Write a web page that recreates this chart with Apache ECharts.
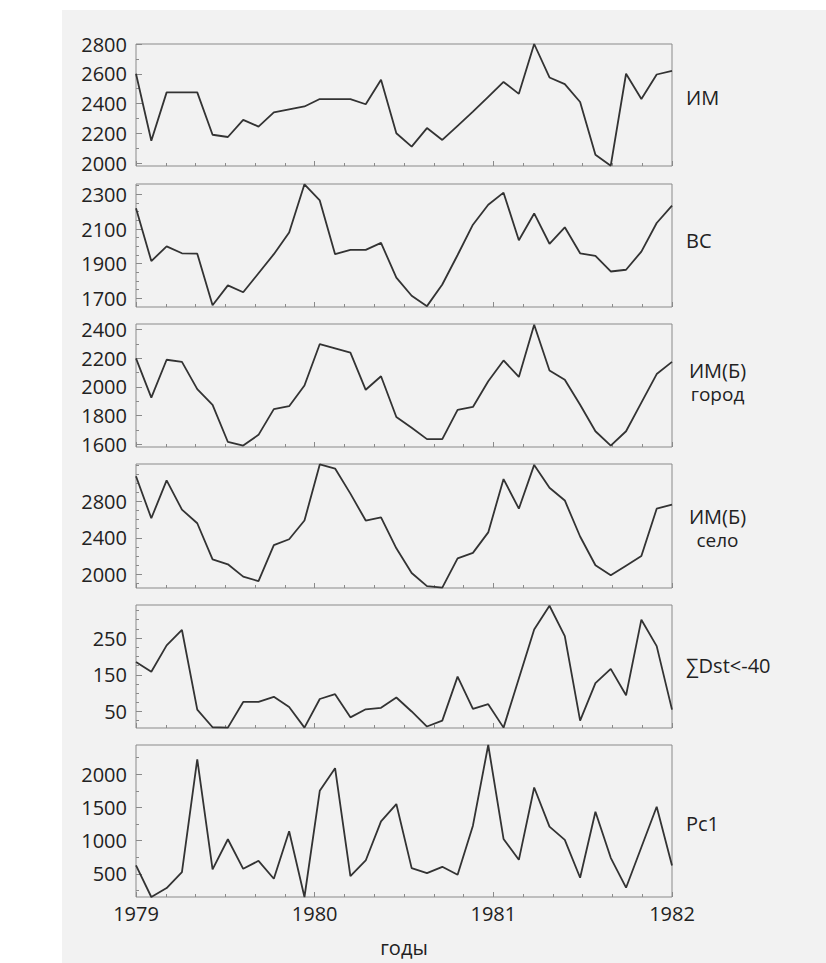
<!DOCTYPE html>
<html><head><meta charset="utf-8">
<script src="https://cdn.jsdelivr.net/npm/echarts@6/dist/echarts.min.js"></script>
<style>
html,body{margin:0;padding:0;background:#fff;}
#bg{position:absolute;left:62px;top:10px;width:764px;height:953px;background:#f2f2f2;}
#chart{position:absolute;left:0;top:0;width:826px;height:963px;}
</style></head><body>
<div id="bg"></div><div id="chart"></div>
<script>
// Monthly categories Jan 1979 .. Dec 1981
const years = [1979, 1980, 1981];
const categories = [];
years.forEach(y => { for (let m = 1; m <= 12; m++) categories.push(y + '-' + m); });

// Series values (one per month)
const imVals = [2600,2150,2475,2475,2475,2190,2175,2290,2245,2340,2360,2380,
                2430,2430,2430,2395,2560,2200,2110,2235,2155,2250,2345,2445,
                2545,2465,2800,2575,2530,2410,2055,1982,2600,2430,2595,2620];
const vsVals = [2220,1915,2000,1960,1958,1660,1775,1735,1845,1955,2080,2358,
                2265,1955,1980,1980,2020,1820,1715,1655,1780,1950,2125,2240,
                2310,2035,2190,2015,2110,1960,1945,1855,1865,1970,2135,2235];
const imbGorodVals = [2200,1925,2190,2175,1985,1875,1615,1590,1665,1845,1865,2010,
                      2300,2270,2240,1980,2075,1790,1715,1635,1635,1840,1860,2040,
                      2185,2070,2435,2115,2050,1875,1690,1590,1690,1890,2090,2175];
const imbSeloVals = [3075,2615,3030,2710,2560,2165,2110,1975,1925,2320,2385,2590,
                     3205,3160,2885,2590,2625,2285,2015,1870,1855,2175,2235,2460,
                     3045,2720,3200,2950,2810,2415,2100,1990,2095,2200,2720,2765];
const dstVals = [185,158,230,272,55,7,6,76,76,90,62,6,
                 84,97,34,56,60,88,50,9,25,145,57,70,
                 6,140,273,338,255,25,127,166,94,300,228,55];
const pc1Vals = [625,150,285,525,2225,565,1020,575,695,425,1140,150,
                 1750,2090,465,700,1290,1550,585,510,605,485,1225,2440,
                 1025,710,1800,1210,1010,440,1435,740,290,900,1510,625];

const seriesValues = [imVals, vsVals, imbGorodVals, imbSeloVals, dstVals, pc1Vals];
// Right-hand panel names (first line, optional second line)
const panelNames = ['ИМ', 'ВС', 'ИМ(Б)', 'ИМ(Б)', '∑Dst<-40', 'Pc1'];
const panelSubNames = ['', '', 'город', 'село', '', ''];

// Axis ranges and tick labels
const yMins = [1980, 1650, 1580, 1850, 5, 150];
const yMaxs = [2800, 2360, 2440, 3210, 340, 2440];
const yTickLabels = [
  [2000, 2200, 2400, 2600, 2800],
  [1700, 1900, 2100, 2300],
  [1600, 1800, 2000, 2200, 2400],
  [2000, 2400, 2800],
  [50, 150, 250],
  [500, 1000, 1500, 2000]
];
const yMinorTicks = [
  [2100, 2300, 2500, 2700],
  [1750, 1800, 1850, 1950, 2000, 2050, 2150, 2200, 2250, 2350],
  [1700, 1900, 2100, 2300],
  [1900, 2100, 2200, 2300, 2500, 2600, 2700, 2900, 3000, 3100, 3200],
  [25, 75, 100, 125, 175, 200, 225, 275, 300, 325],
  [250, 750, 1250, 1750, 2250]
];
const xYearTicks = [0, 12, 24, 36];          // months from Jan 1979
const xYearLabels = ['1979', '1980', '1981', '1982'];
const xMinorTicks = [2, 4, 6, 8, 10, 14, 16, 18, 20, 22, 26, 28, 30, 32, 34];

// Layout
const gridTops = [44, 184, 324, 464, 605, 745];
const gridHeights = [122, 123, 123, 124, 123, 152];
const FONT = '"Open Sans", "Noto Sans", sans-serif';
const TXT = '#222';
const AX = '#8a8a8a';

const grid = [], xAxis = [], yAxis = [], series = [];
for (let i = 0; i < 6; i++) {
  grid.push({ left: 136, width: 536, top: gridTops[i], height: gridHeights[i], show: true,
              borderColor: AX, borderWidth: 1, backgroundColor: 'transparent',
              containLabel: false, outerBoundsMode: 'none' });
  xAxis.push({ type: 'category', gridIndex: i, data: categories, boundaryGap: false, show: false, position: 'bottom' });
  xAxis.push({ type: 'value', gridIndex: i, min: 0, max: 36, position: 'bottom',
    axisLine: { show: false, onZero: false }, splitLine: { show: false },
    axisTick: { show: true, inside: true, length: 5, customValues: xYearTicks, lineStyle: { color: AX, width: 1 } },
    axisLabel: { show: i === 5, customValues: xYearTicks, margin: 6,
      formatter: v => xYearLabels[xYearTicks.indexOf(v)] || '',
      fontSize: 20, color: TXT, fontFamily: FONT } });
  xAxis.push({ type: 'value', gridIndex: i, min: 0, max: 36, position: 'bottom',
    axisLine: { show: false, onZero: false }, splitLine: { show: false },
    axisTick: { show: true, inside: true, length: 3, customValues: xMinorTicks, lineStyle: { color: AX, width: 1 } },
    axisLabel: { show: false } });
  yAxis.push({ type: 'value', gridIndex: i, min: yMins[i], max: yMaxs[i], position: 'left',
    axisLine: { show: false, onZero: false }, splitLine: { show: false },
    axisTick: { show: true, inside: true, length: 6, customValues: yTickLabels[i], lineStyle: { color: AX, width: 1 } },
    axisLabel: { show: true, customValues: yTickLabels[i], margin: 9, formatter: v => String(v),
      fontSize: 20, color: TXT, fontFamily: FONT } });
  yAxis.push({ type: 'value', gridIndex: i, min: yMins[i], max: yMaxs[i], position: 'left',
    axisLine: { show: false, onZero: false }, splitLine: { show: false },
    axisTick: { show: true, inside: true, length: 3, customValues: yMinorTicks[i], lineStyle: { color: AX, width: 1 } },
    axisLabel: { show: false } });
  series.push({ type: 'line', xAxisIndex: i * 3, yAxisIndex: i * 2, data: seriesValues[i],
    showSymbol: false, symbol: 'none', lineStyle: { color: '#333', width: 1.8 }, silent: true, clip: true });
}

const labelPos = [
  { x: 686, y: 97, align: 'left' },
  { x: 686, y: 240, align: 'left' },
  { x: 717.5, y: 370, align: 'center' },
  { x: 717.5, y: 516, align: 'center' },
  { x: 686, y: 665, align: 'left' },
  { x: 686, y: 823, align: 'left' }
];
const graphicEls = [];
panelNames.forEach((t, i) => {
  graphicEls.push({ type: 'text', x: labelPos[i].x, y: labelPos[i].y,
    style: { text: t, fontSize: 20, lineHeight: 20, fontFamily: FONT, fill: TXT, align: labelPos[i].align, verticalAlign: 'middle' } });
  if (panelSubNames[i]) {
    graphicEls.push({ type: 'text', x: labelPos[i].x, y: labelPos[i].y + 24,
      style: { text: panelSubNames[i], fontSize: 19, lineHeight: 19, fontFamily: FONT, fill: TXT, align: 'center', verticalAlign: 'middle' } });
  }
});
graphicEls.push({ type: 'text', x: 404, y: 947,
  style: { text: 'годы', fontSize: 20, fontFamily: FONT, fill: TXT, align: 'center', verticalAlign: 'middle' } });

const chart = echarts.init(document.getElementById('chart'), null, { renderer: 'svg', width: 826, height: 963 });
chart.setOption({
  animation: false,
  backgroundColor: 'transparent',
  grid, xAxis, yAxis, series,
  graphic: { elements: graphicEls }
});
</script>
</body></html>
